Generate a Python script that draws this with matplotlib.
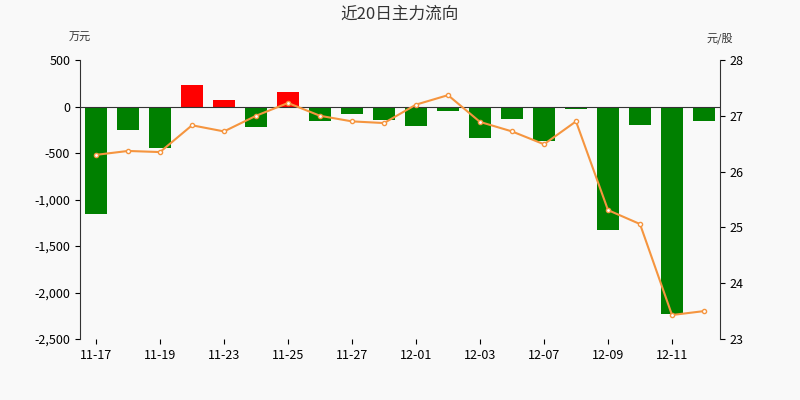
import matplotlib
matplotlib.use("Agg")
import matplotlib.pyplot as plt
import numpy as np

dates = ["11-17","11-18","11-19","11-20","11-23","11-24","11-25","11-26","11-27","11-30",
         "12-01","12-02","12-03","12-04","12-07","12-08","12-09","12-10","12-11","12-14"]
flow = [-1160,-250,-450,235,65,-225,160,-160,-85,-150,-205,-45,-335,-130,-375,-25,-1330,-195,-2230,-160]
price = [26.30,26.37,26.35,26.83,26.72,27.00,27.23,27.00,26.90,26.87,27.20,27.37,26.89,26.72,26.49,26.90,25.31,25.06,23.43,23.50]

plt.rcParams['font.family'] = ['Noto Sans CJK SC', 'DejaVu Sans']
fig = plt.figure(figsize=(8, 4), dpi=100, facecolor='#f9f9f9')
ax = fig.add_axes([0.1, 0.1525, 0.8, 0.6975])
ax.set_facecolor('#f9f9f9')
x = np.arange(len(dates))
colors = ['#ff0000' if v > 0 else '#008000' for v in flow]
ax.bar(x, flow, width=0.7, color=colors, zorder=2)
ax.axhline(0, color='#333333', lw=0.8, zorder=3)
ax.set_ylim(-2500, 500)
ax.set_yticks(range(-2500, 501, 500))
ax.set_yticklabels([f"{v:,}" for v in range(-2500, 501, 500)], fontsize=9)
ax.set_xlim(-0.5, len(dates) - 0.5)
ax.set_xticks(x[::2])
ax.set_xticklabels(dates[::2], fontsize=9)
for s in ['top', 'right']:
    ax.spines[s].set_visible(False)
ax.spines['left'].set_color('#333333')
ax.spines['bottom'].set_visible(False)

ax2 = ax.twinx()
ax2.plot(x, price, color='#f5953f', lw=1.5, marker='o', ms=3, mfc='white', mec='#f5953f', zorder=4)
ax2.set_ylim(23, 28)
ax2.set_yticks(range(23, 29))
ax2.tick_params(labelsize=9)
for s in ['top', 'left', 'bottom']:
    ax2.spines[s].set_visible(False)
ax2.spines['right'].set_color('#333333')

fig.text(0.5, 0.965, "近20日主力流向", ha='center', va='center', fontsize=12, color='#333333')
fig.text(0.1, 0.905, "万元", ha='center', va='center', fontsize=8, color='#333333')
fig.text(0.9, 0.905, "元/股", ha='center', va='center', fontsize=8, color='#333333')
fig.savefig("out.png", facecolor=fig.get_facecolor())
